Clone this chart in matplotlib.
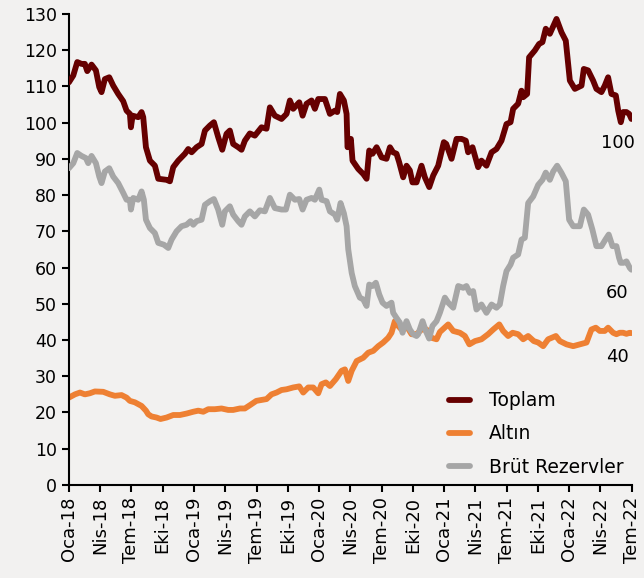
import numpy as np
import matplotlib
matplotlib.use("Agg")
import matplotlib.pyplot as plt

# months since Jan-2018 and index values
toplam_m = [0.0, 0.42, 0.80, 1.21, 1.53, 1.76, 2.17, 2.59, 2.91, 3.13, 3.45, 3.87, 4.25, 4.73,
            5.21, 5.53, 5.85, 5.95, 6.11, 6.65, 6.97, 7.13, 7.39, 7.77, 8.25, 8.57, 9.37, 9.69,
            10.01, 10.49, 11.13, 11.45, 11.77, 12.25, 12.73, 13.05, 13.53, 13.91, 14.32, 14.71,
            15.12, 15.44, 15.76, 16.24, 16.56, 16.88, 17.36, 17.84, 18.48, 18.96, 19.28, 19.76,
            20.4, 20.88, 21.2, 21.52, 22.1, 22.42, 22.8, 23.28, 23.6, 23.92, 24.56, 25.04, 25.52,
            25.74, 26.0, 26.38, 26.64, 26.73, 27.05, 27.21, 27.76, 28.24, 28.56, 28.81, 29.13,
            29.52, 30.0, 30.47, 30.8, 31.1, 31.43, 31.68, 32.07, 32.39, 32.71, 32.96, 33.35,
            33.83, 34.15, 34.57, 34.95, 35.43, 35.97, 36.2, 36.71, 37.19, 37.67, 38.08, 38.3,
            38.72, 39.26, 39.58, 40.06, 40.55, 41.02, 41.5, 41.98, 42.37, 42.62, 43.1, 43.42,
            43.58, 43.96, 44.15, 44.7, 45.11, 45.43, 45.75, 46.14, 46.78, 47.26, 47.67, 48.06,
            48.54, 49.18, 49.4, 49.81, 50.29, 50.61, 51.09, 51.41, 51.73, 52.05, 52.47, 52.7,
            52.95, 53.17, 53.49, 53.75, 53.97]
toplam = [111.1, 113, 116.7, 116.2, 116.2, 114.2, 116, 114.4, 109.8, 108.4, 112, 112.5, 110.2, 107.9,
          105.9, 103.3, 102.4, 98.7, 101.9, 101.5, 102.9, 101.5, 93.2, 89.5, 88.1, 84.5, 84.2, 83.8,
          87.7, 89.5, 91.4, 92.7, 91.8, 93.2, 94.1, 97.8, 99.2, 100.1, 96, 92.5,
          96.9, 97.8, 94.1, 93.2, 92.5, 95, 97.0, 96.4, 98.7, 98.3, 104.2, 101.9,
          101, 102.4, 106.1, 103.8, 105.6, 101.9, 105.2, 106.1, 103.8, 106.5, 106.5, 102.4, 103.3,
          102.9, 107.9, 106.1, 102.4, 93.2, 95.5, 89.5, 87.2, 85.8, 84.5, 92.3, 91.4,
          93.2, 90.4, 90, 93.2, 91.8, 91.4, 89.1, 84.9, 88.1, 86.8, 83.5, 83.5,
          88.1, 84.9, 82.2, 85.4, 88.1, 94.6, 94.1, 90, 95.5, 95.5, 95, 91.8,
          93.2, 87.7, 89.5, 88.1, 91.8, 92.7, 95, 99.6, 100.1, 103.8, 105.2, 108.8,
          107, 107.9, 118, 119.9, 121.7, 122.2, 125.9, 124.5, 128.6, 124.9, 122.6, 111.6,
          109.3, 110.2, 114.8, 114.4, 111.6, 109.3, 108.4, 110.2, 112.5, 107.9, 107.5, 103.3,
          100.1, 102.9, 102.9, 102.4, 101]

altin_m = [0.0, 0.58, 1.06, 1.53, 2.01, 2.49, 3.29, 3.93, 4.41, 5.05, 5.53, 5.85, 6.33, 6.97, 7.39,
           7.61, 7.93, 8.41, 8.79, 9.37, 10.01, 10.65, 11.29, 11.93, 12.41, 12.89, 13.37, 14.0,
           14.64, 15.28, 15.76, 16.4, 16.88, 17.36, 17.98, 18.96, 19.44, 19.92, 20.4, 20.88,
           21.52, 22.1, 22.48, 22.96, 23.44, 23.92, 24.24, 24.65, 25.04, 25.61, 26.16, 26.48,
           26.8, 27.13, 27.61, 28.24, 28.72, 29.2, 29.68, 30.15, 30.63, 30.95, 31.27, 31.59,
           31.91, 32.39, 32.87, 33.35, 33.83, 34.31, 34.79, 35.27, 35.59, 36.39, 36.87, 37.51,
           37.99, 38.42, 38.96, 39.58, 40.22, 40.71, 41.29, 41.66, 42.14, 42.57, 43.1, 43.58,
           44.06, 44.6, 45.02, 45.5, 45.98, 46.72, 47.1, 47.74, 48.38, 49.02, 49.66, 50.13,
           50.55, 50.93, 51.41, 51.73, 52.21, 52.53, 52.85, 53.17, 53.49, 53.81, 53.97]
altin = [24.1, 25, 25.5, 25, 25.3, 25.8, 25.7, 25, 24.6, 24.8, 24.1, 23.2, 22.8, 21.8, 20.5,
         19.5, 18.9, 18.6, 18.2, 18.6, 19.3, 19.3, 19.7, 20.2, 20.5, 20.2, 20.9, 20.9,
         21.1, 20.7, 20.7, 21.1, 21.1, 22.0, 23.2, 23.7, 25, 25.5, 26.2, 26.4,
         26.9, 27.2, 25.5, 26.9, 26.9, 25.3, 27.8, 28.3, 27.3, 29.2, 31.5, 31.9,
         28.7, 31.5, 34.2, 35.1, 36.5, 37, 38.3, 39.3, 40.6, 42, 45.2, 43.9,
         42.9, 43.9, 41.6, 41.6, 42.9, 42.9, 40.6, 40.2, 42.2, 44.3, 42.5, 42,
         41.1, 38.8, 39.7, 40.2, 41.6, 42.9, 44.3, 42.5, 41.1, 42, 41.6, 40.2,
         41.1, 39.7, 39.3, 38.3, 40.2, 41.1, 39.7, 38.8, 38.3, 38.8, 39.3, 42.9,
         43.4, 42.5, 42.5, 43.4, 42, 41.6, 42, 42, 41.7, 42, 41.9]

brut_m = [0.0, 0.42, 0.80, 1.21, 1.63, 1.85, 2.17, 2.59, 2.91, 3.13, 3.45, 3.87, 4.25, 4.73, 5.21,
          5.53, 5.85, 5.95, 6.17, 6.65, 6.97, 7.19, 7.39, 7.77, 8.25, 8.57, 9.11, 9.53, 9.85,
          10.33, 10.81, 11.29, 11.67, 11.93, 12.25, 12.73, 13.05, 13.53, 13.91, 14.32, 14.71,
          14.96, 15.44, 15.76, 16.24, 16.56, 16.88, 17.36, 17.84, 18.32, 18.8, 19.28, 19.76,
          20.4, 20.82, 21.2, 21.68, 22.1, 22.42, 22.8, 23.28, 23.6, 24.02, 24.24, 24.72, 25.04,
          25.52, 25.74, 26.06, 26.38, 26.64, 26.8, 27.13, 27.43, 27.91, 28.24, 28.56, 28.81,
          29.13, 29.45, 29.77, 30.09, 30.47, 30.95, 31.11, 31.43, 31.75, 32.01, 32.39, 32.71,
          33.02, 33.35, 33.51, 33.93, 34.24, 34.56, 34.88, 35.27, 35.59, 36.07, 36.39, 36.87,
          37.35, 37.83, 38.14, 38.46, 38.78, 39.1, 39.58, 40.06, 40.55, 41.02, 41.34, 41.66,
          41.98, 42.37, 42.62, 43.1, 43.42, 43.74, 44.06, 44.54, 45.02, 45.43, 45.75, 46.14,
          46.46, 46.84, 47.26, 47.67, 47.99, 48.38, 49.02, 49.4, 49.81, 50.22, 50.61, 51.09,
          51.47, 51.79, 52.15, 52.53, 52.78, 52.94, 53.23, 53.49, 53.81, 53.97]
brut = [87.4, 88.8, 91.6, 90.8, 90.2, 88.8, 90.8, 88.8, 85.1, 83.3, 86.5, 87.4, 85.1, 83.3, 80.6,
        78.7, 78.7, 76, 79.2, 78.7, 81, 78.7, 73.2, 70.9, 69.5, 66.8, 66.3, 65.4, 67.7,
        70, 71.4, 71.8, 72.8, 71.8, 72.8, 73.2, 77.3, 78.3, 78.9, 76, 71.8,
        75.5, 76.9, 74.6, 72.8, 71.8, 74.1, 75.5, 74.1, 75.8, 75.5, 79.2, 76.4,
        76, 76, 80.1, 78.7, 78.9, 76, 78.7, 79.2, 78.7, 81.5, 78.7, 78.3, 75.5,
        74.6, 73.2, 77.8, 75, 71.4, 65, 58.5, 54.9, 51.7, 51.2, 49.4, 55.3,
        54.9, 55.8, 52.6, 50.3, 49.4, 50.3, 47.5, 46.1, 44.8, 42, 45.2, 42.9,
        41.6, 41.1, 41.6, 45.2, 42.5, 40.4, 43.9, 45.2, 47.5, 51.7, 50.3, 48.9,
        54.9, 54.4, 54.9, 53, 53.5, 48.4, 49.8, 47.5, 49.8, 48.9, 49.8, 54.9,
        59, 60.8, 62.7, 63.6, 67.7, 68.2, 77.8, 79.6, 82.8, 84.2, 86.2, 84.2,
        86.5, 88.1, 86.1, 83.8, 73.2, 71.4, 71.4, 76, 74.6, 70.5, 65.9, 65.9,
        67.7, 69.1, 65.9, 65.9, 62.7, 61.3, 61.3, 61.7, 59.9, 59.4]

end_labels = ["100", "40", "60"]
tick_labels = ["Oca-18", "Nis-18", "Tem-18", "Eki-18", "Oca-19", "Nis-19", "Tem-19", "Eki-19",
               "Oca-20", "Nis-20", "Tem-20", "Eki-20", "Oca-21", "Nis-21", "Tem-21", "Eki-21",
               "Oca-22", "Nis-22", "Tem-22"]

bg = "#F2F1F0"
plt.rcParams['font.family'] = ['DejaVu Sans']

fig = plt.figure(figsize=(6.44, 5.78), dpi=100, facecolor=bg)
ax = fig.add_axes([0.107, 0.161, 0.874, 0.815], facecolor=bg)

series = [
    (toplam_m, toplam, "Toplam", "#660000", 4),
    (altin_m, altin, "Altın", "#EE8033", 2),
    (brut_m, brut, "Brüt Rezervler", "#A6A6A6", 3),
]
for (xs, ys, name, col, z), lab in zip(series, end_labels):
    ax.plot(xs, ys, color=col, lw=4.2, label=name, zorder=z,
            solid_joinstyle='round', solid_capstyle='round')
    ax.annotate(lab, xy=(xs[-1], ys[-1]), xytext=(-10, -17), textcoords='offset points',
                ha='center', va='center', fontsize=13)

ax.set_xlim(0, 54)
ax.set_ylim(0, 130)
ax.set_yticks(np.arange(0, 131, 10))
ax.set_xticks(np.arange(0, 55, 3))
ax.set_xticklabels(tick_labels, rotation=90)
ax.tick_params(axis='y', labelsize=12.5, length=5, width=1.5, direction='out')
ax.tick_params(axis='x', labelsize=13, length=5, width=1.5, direction='out')

for s in ['top', 'right']:
    ax.spines[s].set_visible(False)
for s in ['left', 'bottom']:
    ax.spines[s].set_linewidth(1.5)

ax.legend(loc='lower right', bbox_to_anchor=(1.015, -0.018), frameon=False, fontsize=13.5,
          handlelength=1.1, labelspacing=0.75, handletextpad=1.0)

fig.savefig("out.png", dpi=100, facecolor=bg)
